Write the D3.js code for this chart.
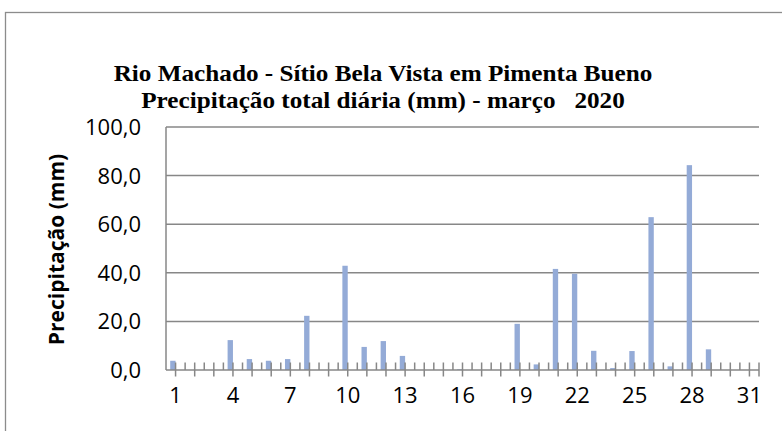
<!DOCTYPE html>
<html>
<head>
<meta charset="utf-8">
<script src="https://cdn.jsdelivr.net/npm/d3@7"></script>
<style>
  html, body { margin: 0; padding: 0; background: #fff; }
  svg { display: block; }
</style>
</head>
<body>
<script>
// dias de março 2020
const days = [1, 2, 3, 4, 5, 6, 7, 8, 9, 10, 11, 12, 13, 14, 15, 16,
  17, 18, 19, 20, 21, 22, 23, 24, 25, 26, 27, 28, 29, 30, 31];
// precipitação total diária (mm)
const precip = [3.8, 0, 0, 12.3, 4.5, 3.8, 4.5, 22.3, 0, 42.9, 9.5, 11.9, 5.8, 0, 0, 0.3,
  0, 0, 19.0, 2.3, 41.6, 39.6, 7.9, 0.8, 7.8, 62.9, 1.5, 84.3, 8.5, 0, 0];
const xTickLabels = [1, 4, 7, 10, 13, 16, 19, 22, 25, 28, 31];
const yTicks = [0, 20, 40, 60, 80, 100];
const titleLines = [
  "Rio Machado - Sítio Bela Vista em Pimenta Bueno",
  "Precipitação total diária (mm) - março   2020"
];

const width = 782, height = 431;
const margin = { top: 127, right: 23, bottom: 61, left: 166 };
const axisColor = "#878787";

const svg = d3.select("body").append("svg")
  .attr("width", width)
  .attr("height", height);

// moldura do gráfico
svg.append("rect")
  .attr("x", 5.5).attr("y", 12.5)
  .attr("width", width + 20).attr("height", height + 20)
  .attr("fill", "none")
  .attr("stroke", "#8c8c8c")
  .attr("stroke-width", 1.3);

const x = d3.scaleBand()
  .domain(days)
  .range([margin.left, width - margin.right]);

const y = d3.scaleLinear()
  .domain([0, 100])
  .range([height - margin.bottom, margin.top]);

const bw = x.bandwidth();

// grade horizontal
svg.append("g")
  .selectAll("line")
  .data(yTicks.filter(d => d > 0))
  .join("line")
  .attr("x1", margin.left).attr("x2", width - margin.right)
  .attr("y1", d => y(d)).attr("y2", d => y(d))
  .attr("stroke", axisColor)
  .attr("stroke-width", 1.5);

// eixo y
svg.append("line")
  .attr("x1", margin.left).attr("x2", margin.left)
  .attr("y1", y(100)).attr("y2", y(0))
  .attr("stroke", axisColor).attr("stroke-width", 1.5);

svg.append("g")
  .selectAll("text")
  .data(yTicks)
  .join("text")
  .attr("x", 141)
  .attr("y", d => y(d))
  .attr("dy", "0.36em")
  .attr("text-anchor", "end")
  .attr("font-family", "'Open Sans', sans-serif")
  .attr("font-size", 22)
  .attr("fill", "#000")
  .text(d => d3.format(".1f")(d).replace(".", ","));

// barras
svg.append("g")
  .selectAll("rect")
  .data(days)
  .join("rect")
  .attr("x", d => x(d) + bw / 2 - bw * 0.28)
  .attr("width", bw * 0.28)
  .attr("y", (d, i) => y(precip[i]))
  .attr("height", (d, i) => y(0) - y(precip[i]))
  .attr("fill", "#94abd7");

// eixo x
const xAxis = svg.append("g");
xAxis.append("line")
  .attr("x1", margin.left).attr("x2", width - margin.right)
  .attr("y1", y(0)).attr("y2", y(0))
  .attr("stroke", axisColor).attr("stroke-width", 1.5);

// marcas entre categorias (para cima)
xAxis.selectAll("line.b")
  .data(days.slice(1))
  .join("line")
  .attr("class", "b")
  .attr("x1", d => x(d)).attr("x2", d => x(d))
  .attr("y1", y(0) - 7.5).attr("y2", y(0))
  .attr("stroke", axisColor).attr("stroke-width", 1.5);

// marcas nos centros (cruzando)
xAxis.selectAll("line.c")
  .data(days)
  .join("line")
  .attr("class", "c")
  .attr("x1", d => x(d) + bw / 2).attr("x2", d => x(d) + bw / 2)
  .attr("y1", y(0) - 7.5).attr("y2", y(0) + 6.5)
  .attr("stroke", axisColor).attr("stroke-width", 1.5);

xAxis.append("line")
  .attr("x1", width - margin.right).attr("x2", width - margin.right)
  .attr("y1", y(0) - 7.5).attr("y2", y(0) + 6.5)
  .attr("stroke", axisColor).attr("stroke-width", 1.5);

xAxis.selectAll("text")
  .data(xTickLabels)
  .join("text")
  .attr("x", d => x(d) + bw / 2)
  .attr("y", 403)
  .attr("text-anchor", "middle")
  .attr("font-family", "'Open Sans', sans-serif")
  .attr("font-size", 22)
  .attr("fill", "#000")
  .text(d => d);

// título do eixo y
svg.append("text")
  .attr("transform", `translate(64, ${(y(0) + y(100)) / 2 + 1}) rotate(-90)`)
  .attr("text-anchor", "middle")
  .attr("font-family", "'Open Sans', sans-serif")
  .attr("font-weight", "bold")
  .attr("font-size", 21)
  .attr("fill", "#000")
  .text("Precipitação (mm)");

// título
svg.append("g")
  .attr("transform", "translate(383, 0) scale(1.05, 1)")
  .selectAll("text")
  .data(titleLines)
  .join("text")
  .attr("x", 0)
  .attr("y", (d, i) => 81 + i * 27)
  .attr("text-anchor", "middle")
  .attr("font-family", "'Liberation Serif', serif")
  .attr("font-weight", "bold")
  .attr("font-size", 24)
  .style("white-space", "pre")
  .attr("fill", "#000")
  .text(d => d);
</script>
</body>
</html>
